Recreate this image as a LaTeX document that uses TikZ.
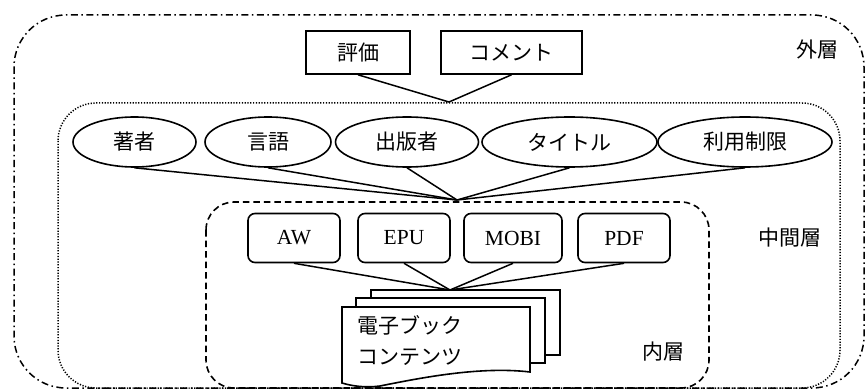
\documentclass[tikz,border=0pt]{standalone}
\usepackage{fontspec}
\setmainfont{Liberation Serif}
\newfontfamily\cjk{Noto Sans CJK JP}
\usetikzlibrary{shapes.geometric}
\tikzset{
  outerlayer/.style={line width=1.5pt, dash pattern=on 7pt off 3.5pt on 1.5pt off 3.5pt, rounded corners=52pt},
  midlayer/.style={line width=1.5pt, dash pattern=on 1.2pt off 1.6pt, rounded corners=38pt},
  innerlayer/.style={line width=1.6pt, dash pattern=on 6.5pt off 4pt, rounded corners=28pt},
  sqbox/.style={draw, line width=1.6pt, fill=white, minimum height=43pt, inner sep=0pt, font=\cjk\fontsize{21}{24}\selectfont},
  ell/.style={draw, ellipse, line width=1.6pt, fill=white, minimum height=50pt, inner sep=0pt, font=\cjk\fontsize{21}{24}\selectfont},
  fmt/.style={draw, line width=1.6pt, rounded corners=7pt, fill=white, minimum height=49pt, inner sep=0pt, font=\fontsize{21.5}{24}\selectfont},
  conn/.style={line width=1.5pt},
  lbl/.style={font=\cjk\fontsize{21}{24}\selectfont, inner sep=0pt},
  sheet/.style={draw, line width=1.6pt, fill=white, inner sep=0pt}
}
\begin{document}
\begin{tikzpicture}[x=1pt,y=-1pt]
\useasboundingbox (0,0) rectangle (866,390);
% layers
\draw[outerlayer] (14,15) rectangle (864,388);
\draw[midlayer] (58,103) rectangle (840,388);
\draw[innerlayer] (206,202) rectangle (709,388);
% junctions
\coordinate (j1) at (449,102);
\coordinate (j2) at (457,200);
\coordinate (j3) at (450,290);
% outer
\node[sqbox, minimum width=104pt] (hyoka) at (358,52.5) {評価};
\node[sqbox, minimum width=141pt] (comment) at (511.5,52.5) {コメント};
\draw[conn] (hyoka.south) -- (j1) -- (comment.south);
% middle
\node[ell, minimum width=123pt] (chosha) at (134.5,142) {著者};
\node[ell, minimum width=126pt] (gengo) at (268,142) {言語};
\node[ell, minimum width=143pt] (shuppan) at (407,142) {出版者};
\node[ell, minimum width=175pt] (title) at (569.5,142) {タイトル};
\node[ell, minimum width=174pt] (riyo) at (745,142) {利用制限};
\foreach \n in {chosha,gengo,shuppan,title,riyo} \draw[conn] (\n.south) -- (j2);
% inner
\node[fmt, minimum width=92pt] (aw) at (294,238) {AW};
\node[fmt, minimum width=92pt] (epu) at (404,238) {EPU};
\node[fmt, minimum width=98pt] (mobi) at (513,238) {MOBI};
\node[fmt, minimum width=92pt] (pdf) at (624,238) {PDF};
\foreach \n in {aw,epu,mobi,pdf} \draw[conn] (\n.south) -- (j3);
% document stack
\node[sheet, minimum width=189pt, minimum height=65pt] (sheet3) at (465.5,322.5) {};
\node[sheet, minimum width=189pt, minimum height=65pt] (sheet2) at (450.5,330.5) {};
\draw[line width=1.6pt, fill=white] (342,307) -- (530,307) -- (530,372)
  .. controls (480,366) and (420,378) .. (380,386)
  .. controls (365,388) and (352,386) .. (342,383) -- cycle;
\node[lbl, anchor=west] (doc1) at (357,325) {電子ブック};
\node[lbl, anchor=west] (doc2) at (357,357) {コンテンツ};
% layer labels
\node[lbl] (lout) at (817,50) {外層};
\node[lbl] (lmid) at (790,238) {中間層};
\node[lbl] (lin) at (663,352) {内層};
\end{tikzpicture}
\end{document}
